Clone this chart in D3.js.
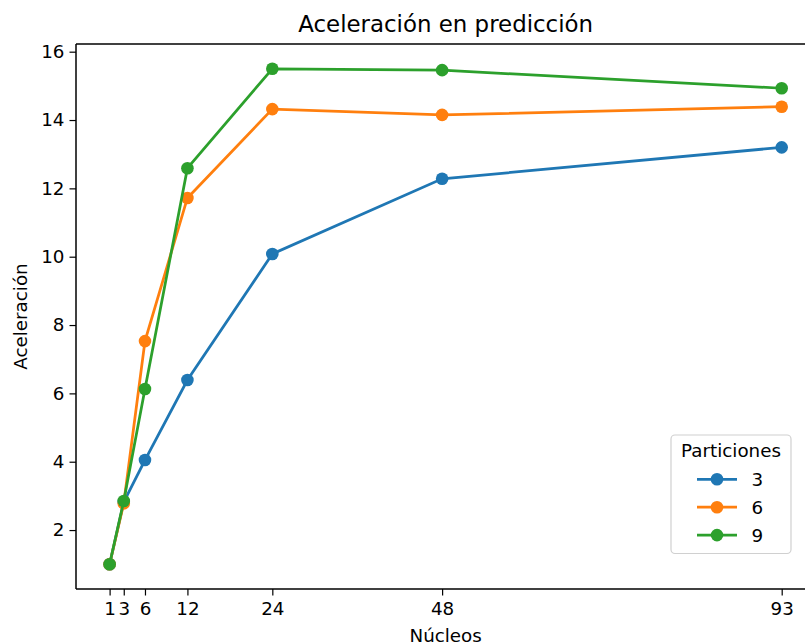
<!DOCTYPE html>
<html>
<head>
<meta charset="utf-8">
<script src="https://cdn.jsdelivr.net/npm/d3@7"></script>
<style>
  body { margin: 0; background: #fff; }
  svg text { font-family: "DejaVu Sans", sans-serif; fill: #000; }
</style>
</head>
<body>
<svg id="chart" width="805" height="644"></svg>
<script>
// data
const nucleos = [1, 3, 6, 12, 24, 48, 96];
const tickValues = [1, 3, 6, 12, 24, 48, 96];
const tickLabels = ['1', '3', '6', '12', '24', '48', '93'];
const yTicks = [2, 4, 6, 8, 10, 12, 14, 16];
const particiones = ['3', '6', '9'];
const acel3 = [1.0, 2.82, 4.05, 6.39, 10.08, 12.28, 13.2];
const acel6 = [1.0, 2.78, 7.53, 11.72, 14.32, 14.15, 14.39];
const acel9 = [1.0, 2.85, 6.13, 12.59, 15.5, 15.46, 14.93];
const colors = ['#1f77b4', '#ff7f0e', '#2ca02c'];

const series = [acel3, acel6, acel9].map((vals, i) => ({
  name: particiones[i],
  color: colors[i],
  points: vals.map((v, j) => ({x: nucleos[j], y: v}))
}));

const plot = {left: 76, right: 815.3, top: 44, bottom: 589};

const svg = d3.select('svg#chart');

const xScale = d3.scaleLinear()
  .domain([-3.75, 100.75])
  .range([plot.left, plot.right]);

const yScale = d3.scaleLinear()
  .domain([0.275, 16.225])
  .range([plot.bottom, plot.top]);

// axes
const xAxis = svg.append('g')
  .attr('transform', 'translate(0,' + plot.bottom + ')')
  .call(d3.axisBottom(xScale).tickValues(tickValues)
    .tickFormat((d, i) => tickLabels[i]).tickSizeOuter(0).tickSize(6.5).tickPadding(5));

const yAxis = svg.append('g')
  .attr('transform', 'translate(' + plot.left + ',0)')
  .call(d3.axisLeft(yScale).tickValues(yTicks).tickSizeOuter(0).tickSize(6.5).tickPadding(5));

[xAxis, yAxis].forEach(g => {
  g.select('.domain').remove();
  g.selectAll('.tick line').attr('stroke', '#000').attr('stroke-width', 1.2);
  g.selectAll('.tick text').style('font-size', '18.3px').style('font-family', '"DejaVu Sans"');
});
xAxis.selectAll('.tick text').attr('dy', '0.78em');

// spines
svg.append('line')
  .attr('x1', plot.left).attr('x2', plot.left)
  .attr('y1', plot.top).attr('y2', plot.bottom)
  .attr('stroke', '#000').attr('stroke-width', 1.5);
svg.append('line')
  .attr('x1', plot.left).attr('x2', 805)
  .attr('y1', plot.bottom).attr('y2', plot.bottom)
  .attr('stroke', '#000').attr('stroke-width', 1.5);
svg.append('line')
  .attr('x1', plot.left).attr('x2', 805)
  .attr('y1', plot.top).attr('y2', plot.top)
  .attr('stroke', '#000').attr('stroke-width', 1.5);

// lines + markers
const line = d3.line()
  .x(d => xScale(d.x))
  .y(d => yScale(d.y));

series.forEach(s => {
  const g = svg.append('g');
  g.append('path')
    .datum(s.points)
    .attr('fill', 'none')
    .attr('stroke', s.color)
    .attr('stroke-width', 2.75)
    .attr('d', line);
  g.selectAll('circle')
    .data(s.points).enter().append('circle')
    .attr('r', 6.3)
    .attr('fill', s.color)
    .attr('cx', d => xScale(d.x))
    .attr('cy', d => yScale(d.y));
});

// title and labels
svg.append('text')
  .attr('x', (plot.left + plot.right) / 2)
  .attr('y', 32)
  .attr('text-anchor', 'middle')
  .style('font-size', '22.9px')
  .text('Aceleración en predicción');

svg.append('text')
  .attr('x', (plot.left + plot.right) / 2)
  .attr('y', 642)
  .attr('text-anchor', 'middle')
  .style('font-size', '18.3px')
  .text('Núcleos');

svg.append('text')
  .attr('transform', 'translate(27,' + ((plot.top + plot.bottom) / 2) + ') rotate(-90)')
  .attr('text-anchor', 'middle')
  .style('font-size', '18.3px')
  .text('Aceleración');

// legend
const legend = svg.append('g');
legend.append('rect')
  .attr('x', 671).attr('y', 435)
  .attr('width', 120).attr('height', 118.5)
  .attr('rx', 4)
  .attr('fill', '#fff').attr('fill-opacity', 0.8)
  .attr('stroke', '#d0d0d0').attr('stroke-width', 1.2);
legend.append('text')
  .attr('x', 731).attr('y', 457)
  .attr('text-anchor', 'middle')
  .style('font-size', '18.3px')
  .text('Particiones');

const rows = legend.selectAll('g.row')
  .data(series).enter().append('g')
  .attr('class', 'row')
  .attr('transform', (d, i) => 'translate(0,' + (479.3 + i * 27.9) + ')');
rows.append('line')
  .attr('x1', 697).attr('x2', 737)
  .attr('stroke', d => d.color).attr('stroke-width', 2.75);
rows.append('circle')
  .attr('cx', 717).attr('r', 6.3)
  .attr('fill', d => d.color);
rows.append('text')
  .attr('x', 751.5).attr('dy', '0.35em')
  .style('font-size', '18.3px')
  .text(d => d.name);
</script>
</body>
</html>
